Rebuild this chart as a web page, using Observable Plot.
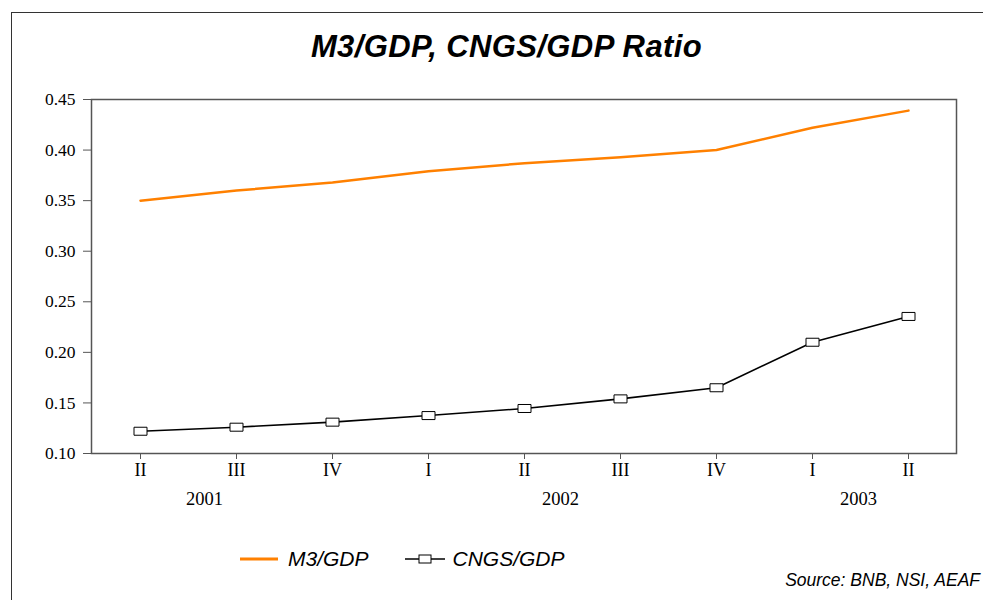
<!DOCTYPE html>
<html>
<head>
<meta charset="utf-8">
<script src="https://cdn.jsdelivr.net/npm/d3@7"></script>
<script src="https://cdn.jsdelivr.net/npm/@observablehq/plot@0.6"></script>
<style>
  html, body { margin: 0; padding: 0; background: #fff; }
  #wrap { position: relative; width: 983px; height: 600px; overflow: hidden; }
  #border { position: absolute; left: 11px; top: 12px; right: -5px; bottom: -5px; border-left: 1.5px solid #333; border-top: 1.5px solid #333; }
  #title { position: absolute; left: 0; width: 1013px; top: 29px; text-align: center; font: italic bold 31px "Liberation Sans", Arial, sans-serif; letter-spacing: 0.4px; color: #000; }
  #legend { position: absolute; left: 240px; top: 547px; font: italic 21px "Liberation Sans", Arial, sans-serif; display: flex; align-items: center; }
  #legend .item { display: flex; align-items: center; margin-right: 36px; }
  #legend svg { margin-right: 8px; }
  #source { position: absolute; right: 3px; top: 570px; font: italic 17.5px "Liberation Sans", Arial, sans-serif; }
  #chart { position: absolute; left: 0; top: 0; }
</style>
</head>
<body>
<div id="wrap">
  <div id="border"></div>
  <div id="chart"></div>
  <div id="title">M3/GDP, CNGS/GDP Ratio</div>
  <div id="legend">
    <div class="item"><svg width="40" height="10"><line x1="0" y1="5" x2="38" y2="5" stroke="#FF8000" stroke-width="3"/></svg><span>M3/GDP</span></div>
    <div class="item"><svg width="40" height="12"><line x1="0" y1="6" x2="40" y2="6" stroke="#000" stroke-width="1.5"/><rect x="14" y="2" width="12" height="8" fill="#fff" stroke="#000" stroke-width="1"/></svg><span>CNGS/GDP</span></div>
  </div>
  <div id="source">Source: BNB, NSI, AEAF</div>
</div>
<script>
const quarters = ["2001 II","2001 III","2001 IV","2002 I","2002 II","2002 III","2002 IV","2003 I","2003 II"];
const m3gdp   = [0.350, 0.360, 0.368, 0.379, 0.387, 0.393, 0.400, 0.422, 0.439];
const cngsgdp = [0.122, 0.126, 0.131, 0.1375, 0.1445, 0.154, 0.165, 0.210, 0.2355];
const yTicks  = [0.10, 0.15, 0.20, 0.25, 0.30, 0.35, 0.40, 0.45];
const years   = ["2001", "2002", "2003"];
const yearAnchors = ["2001 III", "2002 II", "2003 I"];

const m3Data = quarters.map((q, i) => ({q, v: m3gdp[i]}));
const cnData = quarters.map((q, i) => ({q, v: cngsgdp[i]}));

const boxSymbol = { draw(ctx, size) { const w = 6.5, h = 4; ctx.moveTo(-w, -h); ctx.lineTo(w, -h); ctx.lineTo(w, h); ctx.lineTo(-w, h); ctx.closePath(); } };

const yearDx = [-32, 36, 46];

const chart = Plot.plot({
  width: 983,
  height: 520,
  marginLeft: 91,
  marginTop: 99,
  marginRight: 27,
  marginBottom: 67,
  style: { fontFamily: "'Liberation Serif', 'Times New Roman', serif", fontSize: "18px", color: "#000", background: "transparent", overflow: "visible" },
  x: { type: "point", domain: quarters, padding: 0.5, label: null },
  y: { domain: [0.10, 0.45], label: null },
  marks: [
    Plot.axisX({ tickSize: 6, tickPadding: 4, tickFormat: d => d.split(" ")[1], stroke: "#555", fontSize: 18 }),
    Plot.axisY({ ticks: yTicks, tickSize: 8, tickPadding: 8, tickFormat: d3.format(".2f"), stroke: "#555", fontSize: 17.5 }),
    Plot.frame({ stroke: "#555", strokeWidth: 1.5 }),
    Plot.line(m3Data, { x: "q", y: "v", stroke: "#FF8000", strokeWidth: 2.5 }),
    Plot.line(cnData, { x: "q", y: "v", stroke: "#000", strokeWidth: 1.6 }),
    Plot.dot(cnData, { x: "q", y: "v", symbol: boxSymbol, fill: "#fff", stroke: "#000", strokeWidth: 1, r: 4 }),
    ...years.map((yr, i) => Plot.text([yr], { x: () => yearAnchors[i], frameAnchor: "bottom", dy: 51, dx: yearDx[i], text: d => d, fontSize: 18.5 }))
  ]
});
document.getElementById("chart").appendChild(chart);
</script>
</body>
</html>
